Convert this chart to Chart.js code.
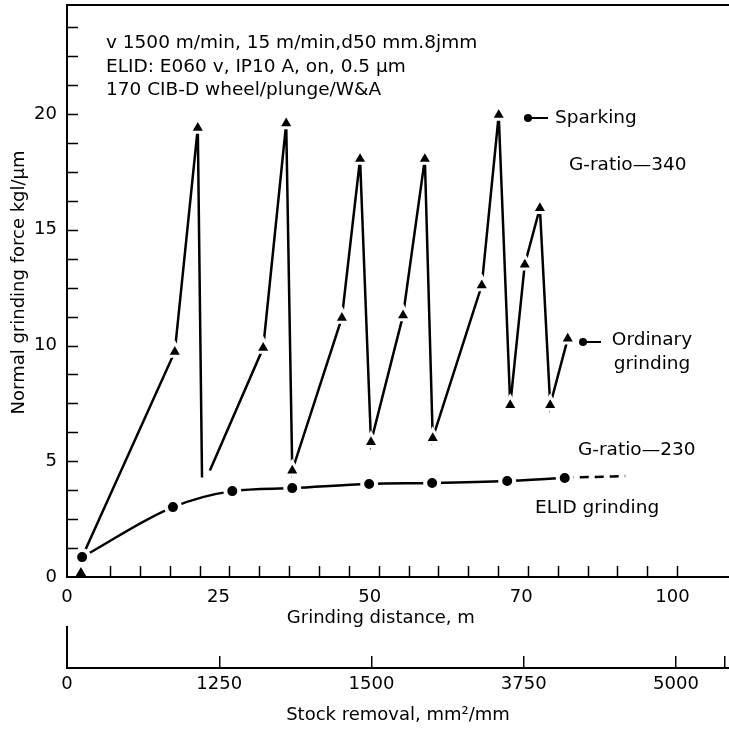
<!DOCTYPE html>
<html>
<head>
<meta charset="utf-8">
<title>Normal grinding force vs grinding distance</title>
<script src="https://cdn.jsdelivr.net/npm/chart.js@4.4.0/dist/chart.umd.min.js"></script>
<style>
  html, body { margin: 0; padding: 0; background: #fff; }
  #wrap { width: 729px; height: 729px; }
</style>
</head>
<body>
<div id="wrap"><canvas id="chart" width="729" height="729"></canvas></div>
<script>
// values: grinding distance (m) vs normal force
const ordinaryLineX = [2.5, 17.8, 21.6, 22.3, 23.0, 23.6, 32.4, 36.2, 37.2, 45.4, 48.4, 50.2, 55.5, 59.1, 60.4, 68.5, 71.3, 73.2, 75.6, 78.1, 79.8, 82.7];
const ordinaryLineY = [0.86, 9.73, 19.4, 4.3, null, 4.6, 9.9, 19.6, 4.6, 11.2, 18.06, 5.83, 11.3, 18.06, 6.0, 12.6, 19.96, 7.43, 13.5, 15.94, 7.43, 10.3];
const ordinaryTriX = [2.3, 17.8, 21.6, 32.4, 36.2, 37.2, 45.4, 48.4, 50.2, 55.5, 59.1, 60.4, 68.5, 71.3, 73.2, 75.6, 78.1, 79.8, 82.7];
const ordinaryTriY = [0.17, 9.73, 19.4, 9.9, 19.6, 4.6, 11.2, 18.06, 5.83, 11.3, 18.06, 6.0, 12.6, 19.96, 7.43, 13.5, 15.94, 7.43, 10.3];
const elidX = [2.5, 17.5, 27.3, 37.2, 49.9, 60.3, 72.7, 82.2];
const elidY = [0.86, 3.02, 3.71, 3.84, 4.02, 4.06, 4.15, 4.28];
const elidTailX = [92.2];
const elidTailY = [4.36];

// axis ticks and labels (as printed on the figure)
const distTicks = [0, 25, 50, 75, 100];
const distLabels = ['0', '25', '50', '70', '100'];
const stockTicks = [0, 1250, 2500, 3750, 5000, 5400];
const stockLabels = ['0', '1250', '1500', '3750', '5000', ''];
const forceTicks = [0, 5, 10, 15, 20];
const forceLabels = ['0', '5', '10', '15', '20'];

const distMinor = [];
for (let i = 0; i < 20; i++) distMinor.push(7.1 + i * 4.93);
const forceMinor = [];
for (let i = 1; i < 20; i++) forceMinor.push(i * 1.25);

const pts = (xs, ys) => xs.map((x, i) => ({ x: x, y: ys[i] }));

// keep the plot box where the figure has it: no label overhang padding
const noOverhang = s => {
  s.paddingTop = 0;
  s.paddingBottom = 0;
  s.paddingLeft = 0;
  s.paddingRight = 0;
};

Chart.defaults.font.family = '"DejaVu Sans", sans-serif';
Chart.defaults.font.size = 18;
Chart.defaults.color = '#000';

// inward tick marks + the little stub on the stock removal axis
const tickMarks = {
  id: 'tickMarks',
  beforeDatasetsDraw(chart) {
    const ctx = chart.ctx;
    const x = chart.scales.x, y = chart.scales.y, s = chart.scales.x2;
    ctx.save();
    ctx.strokeStyle = '#000';
    ctx.lineWidth = 1.5;
    ctx.beginPath();
    distMinor.forEach(v => {
      const px = Math.round(x.getPixelForValue(v)) + 0.5;
      ctx.moveTo(px, y.bottom);
      ctx.lineTo(px, y.bottom - 11);
    });
    forceMinor.forEach(v => {
      const py = Math.round(y.getPixelForValue(v)) + 0.5;
      ctx.moveTo(x.left, py);
      ctx.lineTo(x.left + 11, py);
    });
    ctx.stroke();
    ctx.lineWidth = 2;
    ctx.beginPath();
    ctx.moveTo(s.left, s.top - 42);
    ctx.lineTo(s.left, s.top);
    ctx.stroke();
    ctx.restore();
  }
};

// text notes written on the plot
const notes = {
  id: 'notes',
  afterDatasetsDraw(chart) {
    const ctx = chart.ctx;
    ctx.save();
    ctx.fillStyle = '#000';
    ctx.strokeStyle = '#000';
    ctx.font = '18.5px "DejaVu Sans", sans-serif';
    ctx.textBaseline = 'middle';
    ctx.textAlign = 'left';
    ctx.fillText('v 1500 m/min, 15 m/min,d50 mm.8jmm', 106, 43);
    ctx.fillText('ELID: E060 v, IP10 A, on, 0.5 \u03bcm', 106, 67);
    ctx.fillText('170 CIB-D wheel/plunge/W&A', 106, 90);
    ctx.fillText('Sparking', 555, 118);
    ctx.fillText('G-ratio\u2014340', 569, 165);
    ctx.fillText('G-ratio\u2014230', 578, 450);
    ctx.fillText('ELID grinding', 535, 508);
    ctx.textAlign = 'center';
    ctx.fillText('Ordinary', 652, 340);
    ctx.fillText('grinding', 652, 364);

    // pointer dots
    ctx.lineWidth = 2;
    [[528, 118, 548], [583, 342, 601]].forEach(d => {
      ctx.beginPath();
      ctx.arc(d[0], d[1], 4, 0, Math.PI * 2);
      ctx.fill();
      ctx.beginPath();
      ctx.moveTo(d[0] + 3, d[1]);
      ctx.lineTo(d[2], d[1]);
      ctx.stroke();
    });
    ctx.restore();
  }
};

new Chart(document.getElementById('chart'), {
  type: 'line',
  data: {
    datasets: [
      {
        label: 'Ordinary grinding markers',
        data: pts(ordinaryTriX, ordinaryTriY),
        showLine: false,
        order: 0,
        pointStyle: 'triangle',
        pointRadius: c => (c.parsed && c.parsed.y < 1 ? 6 : 8.8),
        pointBorderWidth: c => (c.parsed && c.parsed.y < 1 ? 0 : 3),
        pointBackgroundColor: '#000',
        pointBorderColor: '#fff'
      },
      {
        label: 'ELID grinding markers',
        data: pts(elidX, elidY),
        showLine: false,
        order: 0,
        pointStyle: 'circle',
        pointRadius: 7,
        pointBorderWidth: 4,
        pointBackgroundColor: '#000',
        pointBorderColor: '#fff'
      },
      {
        label: 'Ordinary grinding',
        data: pts(ordinaryLineX, ordinaryLineY),
        order: 1,
        borderColor: '#000',
        borderWidth: 2.5,
        tension: 0,
        spanGaps: false,
        pointRadius: 0
      },
      {
        label: 'ELID grinding',
        data: pts(elidX.concat(elidTailX), elidY.concat(elidTailY)),
        order: 1,
        borderColor: '#000',
        borderWidth: 2.5,
        cubicInterpolationMode: 'monotone',
        pointRadius: 0,
        segment: {
          borderDash: c => (c.p1DataIndex >= elidX.length ? [9, 6] : undefined)
        }
      }
    ]
  },
  options: {
    responsive: false,
    animation: false,
    events: [],
    layout: { autoPadding: false, padding: { top: 5, right: 0, bottom: 0, left: 0 } },
    plugins: { legend: { display: false }, tooltip: { enabled: false } },
    scales: {
      x: {
        type: 'linear',
        position: 'bottom',
        weight: 0,
        min: 0,
        max: 109.33,
        afterBuildTicks: s => { s.ticks = distTicks.map(v => ({ value: v })); },
        afterFit: s => { s.height = 91; noOverhang(s); },
        ticks: {
          autoSkip: false,
          maxRotation: 0,
          padding: 9.2,
          callback: (v, i) => distLabels[i]
        },
        grid: { display: false, drawTicks: false },
        border: { display: true, color: '#000', width: 2 },
        // trailing no-break spaces nudge the title left, as in the figure
        title: { display: true, text: 'Grinding distance, m' + '\u00a0'.repeat(6), padding: { top: 0, bottom: 39.2 } }
      },
      x2: {
        type: 'linear',
        position: 'bottom',
        weight: 1,
        min: 0,
        max: 5435,
        afterBuildTicks: s => { s.ticks = stockTicks.map(v => ({ value: v })); },
        afterFit: s => { s.height = 61; noOverhang(s); },
        ticks: {
          autoSkip: false,
          maxRotation: 0,
          padding: 17.2,
          callback: (v, i) => stockLabels[i]
        },
        grid: { display: true, drawOnChartArea: false, drawTicks: true, tickLength: -12, color: '#000', lineWidth: 1.5 },
        border: { display: true, color: '#000', width: 2 },
        title: { display: true, text: 'Stock removal, mm\u00b2/mm', padding: { top: 0, bottom: 3.2 } }
      },
      xTop: {
        type: 'linear',
        position: 'top',
        min: 0,
        max: 109.33,
        afterFit: s => { s.height = 0; noOverhang(s); },
        ticks: { display: false },
        grid: { display: false, drawTicks: false },
        border: { display: true, color: '#000', width: 2 }
      },
      y: {
        type: 'linear',
        position: 'left',
        min: 0,
        max: 24.71,
        afterBuildTicks: s => { s.ticks = forceTicks.map(v => ({ value: v })); },
        afterFit: s => { s.width = 67; noOverhang(s); },
        ticks: {
          padding: 10,
          callback: (v, i) => forceLabels[i]
        },
        grid: { display: false, drawTicks: false },
        border: { display: true, color: '#000', width: 2 },
        title: { display: true, text: '\u00a0'.repeat(3) + 'Normal grinding force kgl/\u03bcm', padding: { top: 8.2, bottom: 0 } }
      }
    }
  },
  plugins: [tickMarks, notes]
});
</script>
</body>
</html>
